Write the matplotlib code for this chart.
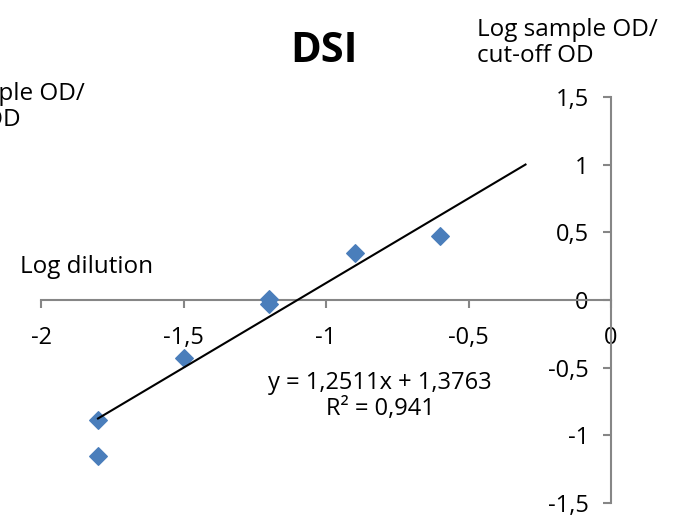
import matplotlib
matplotlib.use('Agg')
import matplotlib.pyplot as plt
from matplotlib.ticker import FuncFormatter

plt.rcParams['font.family'] = ['Open Sans', 'DejaVu Sans']

# data
log_dilution = [-1.8, -1.8, -1.5, -1.2, -1.2, -0.9, -0.6]
log_od_ratio = [-0.89, -1.15, -0.43, 0.01, -0.03, 0.35, 0.47]

# trendline as printed on the chart
slope = 1.2511
intercept = 1.3763
trend_x = [-1.8, -0.3]

x_ticks = [-2, -1.5, -1, -0.5, 0]
y_ticks = [-1.5, -1, -0.5, 0, 0.5, 1, 1.5]

W, H = 685, 529
fig = plt.figure(figsize=(W / 100, H / 100), dpi=100)
ax = fig.add_axes([41 / W, 26 / H, 570 / W, 406 / H])

ax.scatter(log_dilution, log_od_ratio, marker='D', s=80, color='#4A7EBB', zorder=3, clip_on=False)
trend_y = [slope * x + intercept for x in trend_x]
ax.plot(trend_x, trend_y, color='black', lw=1.5, zorder=4)

ax.set_xlim(-2, 0)
ax.set_ylim(-1.5, 1.5)

for s in ['top', 'right']:
    ax.spines[s].set_visible(False)
ax.spines['left'].set_position(('data', 0))
ax.spines['bottom'].set_position(('data', 0))
for s in ['left', 'bottom']:
    ax.spines[s].set_color('#868686')
    ax.spines[s].set_linewidth(1.5)

comma = FuncFormatter(lambda v, p: ('%g' % v).replace('.', ','))
ax.set_xticks(x_ticks)
ax.set_yticks(y_ticks)
ax.xaxis.set_major_formatter(comma)
ax.yaxis.set_major_formatter(comma)
ax.tick_params(axis='both', direction='out', length=6, width=1.5, color='#868686',
               labelsize=17)
ax.tick_params(axis='x', pad=13)
ax.tick_params(axis='y', pad=10)

ax.patch.set_visible(False)

fig.text(324 / W, 1 - 52 / H, 'DSI', fontsize=30, fontweight='bold', ha='center', va='center')
fig.text(477 / W, 1 - 43 / H, 'Log sample OD/\ncut-off OD', fontsize=17.5, ha='left', va='center',
         linespacing=1.08)
# the same axis title, cut off at the left edge in the original
fig.text(85 / W, 1 - 107 / H, 'Log sample OD/\ncut-off OD', fontsize=17.5, ha='right', va='center',
         multialignment='left', linespacing=1.12)
fig.text(20 / W, 1 - 267 / H, 'Log dilution', fontsize=17.5, ha='left', va='center')
ax.text(-0.81, -0.71, 'y = 1,2511x + 1,3763\nR² = 0,941', fontsize=17, ha='center', va='center',
        multialignment='center', linespacing=1.15)

fig.savefig('out.png', dpi=100)
